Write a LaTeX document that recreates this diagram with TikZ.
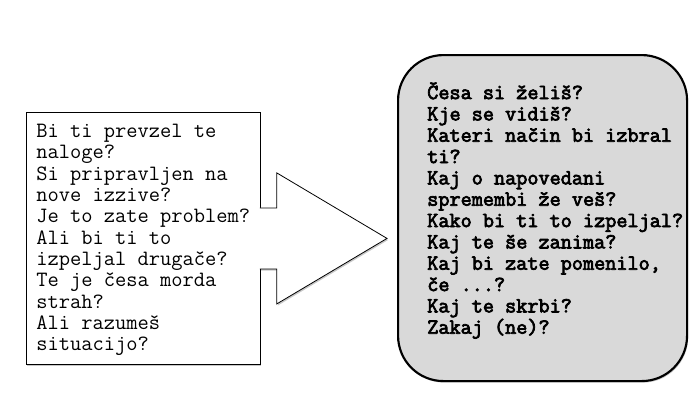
\documentclass[tikz,border=0pt]{standalone}
\usepackage{fontspec}
\newfontfamily\heavymono[FakeBold=3.4]{Latin Modern Mono}
\usetikzlibrary{positioning,calc,shadows}
\definecolor{panelGray}{RGB}{217,217,217}
\tikzset{
  qbox/.style={draw=black, line width=0.6pt, fill=white, minimum width=175.5pt, minimum height=189pt, inner sep=0pt, anchor=north west},
  abox/.style={draw=black, line width=1.6pt, fill=panelGray, rounded corners=34pt, minimum width=216.75pt, minimum height=244.5pt, inner sep=0pt, anchor=north west},
  qtext/.style={font=\fontsize{16.4pt}{16pt}\selectfont\ttfamily, align=left, inner sep=0pt, anchor=north west},
  softshadow/.style={drop shadow={shadow xshift=0.8pt, shadow yshift=-1.2pt, fill=black, opacity=0.22}},
}

\begin{document}
\begin{tikzpicture}[x=0.75pt,y=-0.75pt]
\useasboundingbox (0,0) rectangle (699,405);
% boxes
\node[qbox, softshadow] (qleft) at (26,112) {};
\node[abox, softshadow] (qright) at (397,54) {};
% block arrow between them
\coordinate (tip) at ($(qleft.east -| qright.west)+(-10,0)$);
\draw[line width=0.6pt, fill=white, softshadow, line join=miter]
  ([shift={(-1,-30.5)}]qleft.east) -- ([shift={(16,-30.5)}]qleft.east)
  -- ([shift={(16,-65.5)}]qleft.east) -- (tip)
  -- ([shift={(16,65.5)}]qleft.east) -- ([shift={(16,30.5)}]qleft.east)
  -- ([shift={(-1,30.5)}]qleft.east);
% questions
\node[qtext] (qleftText) at ([shift={(10,12)}]qleft.north west)
  {Bi ti prevzel te\\naloge?\\Si pripravljen na\\nove izzive?\\Je to zate problem?\\Ali bi ti to\\izpeljal drugače?\\Te je česa morda\\strah?\\Ali razumeš\\situacijo?};
\node[qtext, font=\fontsize{16.2pt}{16pt}\selectfont\heavymono] (qrightText) at ([shift={(30,28)}]qright.north west)
  {Česa si želiš?\\Kje se vidiš?\\Kateri način bi izbral\\ti?\\Kaj o napovedani\\spremembi že veš?\\Kako bi ti to izpeljal?\\Kaj te še zanima?\\Kaj bi zate pomenilo,\\če ...?\\Kaj te skrbi?\\Zakaj (ne)?};
\end{tikzpicture}
\end{document}
